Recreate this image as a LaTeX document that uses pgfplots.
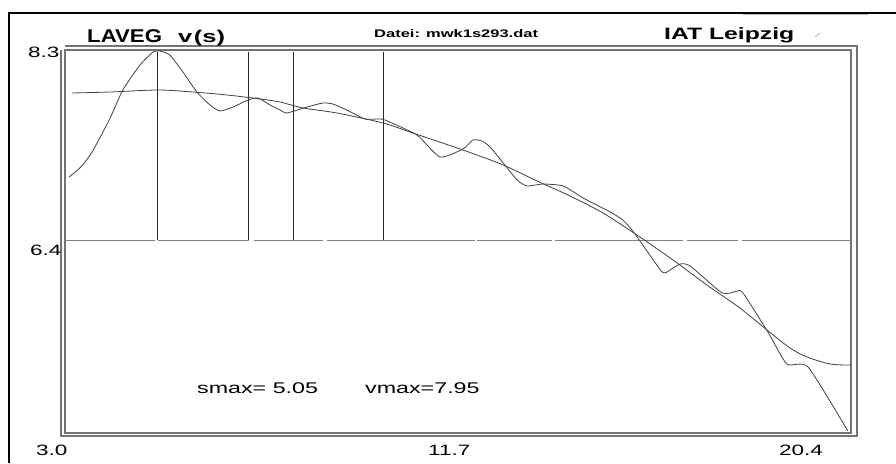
\documentclass[border=0pt]{standalone}
\usepackage{graphicx}
\usepackage{fontspec}
\setmainfont{Liberation Sans}
\usepackage{pgfplots}
\pgfplotsset{compat=1.18}
\newcommand\T[3]{\scalebox{#1}[1]{\fontsize{#2}{#2}\selectfont #3}}
\begin{document}
\begin{tikzpicture}[x=1pt,y=1pt]
\useasboundingbox (0,0) rectangle (896,-463);
% outer frame
\draw[black,line width=1.3pt] (9,-463) -- (9,-13) -- (896,-13);
\draw[gray!60,line width=1.2pt] (743,-14.5) -- (868,-14.5);
\draw[gray!70,line width=0.6pt] (815,-37) -- (820,-33);
% second (outer) box line
\draw[gray!90!black,line width=1.1pt] (61,-50) -- (61,-436) -- (857,-436) -- (857,-46) -- (65,-46);
\begin{axis}[at={(65pt,-433pt)}, anchor=south west, scale only axis,
  width=786pt, height=383pt,
  xmin=3, xmax=20.4, ymin=4.47, ymax=8.3,
  ticks=none,
  axis line style={gray!90!black, line width=1.1pt},
  unbounded coords=jump]
% horizontal reference line at 6.4 (with small gaps)
\addplot[gray, line width=0.9pt] coordinates {
 (3.0,6.4) (4.99,6.4) (nan,nan) (5.06,6.4) (7.07,6.4) (nan,nan) (7.18,6.4) (8.71,6.4) (nan,nan)
 (8.80,6.4) (12.08,6.4) (nan,nan) (12.12,6.4) (13.78,6.4) (nan,nan) (13.85,6.4) (16.68,6.4) (nan,nan)
 (16.77,6.4) (17.90,6.4) (nan,nan) (17.99,6.4) (20.4,6.4)};
% vertical markers
\addplot[black!85, line width=0.9pt] coordinates {(5.05,6.4) (5.05,8.28)};
\addplot[black!85, line width=0.9pt] coordinates {(7.05,6.4) (7.05,8.28)};
\addplot[black!85, line width=0.9pt] coordinates {(8.05,6.4) (8.05,8.28)};
\addplot[black!85, line width=0.9pt] coordinates {(10.05,6.4) (10.05,8.28)};
% measured v(s)
\addplot[black!75, line width=0.8pt, smooth, tension=0.35] table {
3.09 7.03
3.35 7.13
3.60 7.28
4.00 7.62
4.28 7.90
4.66 8.15
4.95 8.28
5.10 8.29
5.32 8.25
5.61 8.08
5.92 7.88
6.21 7.75
6.43 7.69
6.72 7.73
7.05 7.80
7.27 7.82
7.54 7.75
7.76 7.70
7.91 7.67
8.36 7.73
8.71 7.77
8.93 7.76
9.24 7.70
9.64 7.61
9.91 7.61
10.08 7.60
10.79 7.45
11.30 7.23
11.81 7.31
12.03 7.40
12.23 7.39
12.41 7.33
12.70 7.17
13.01 7.00
13.23 6.94
13.58 6.96
14.03 6.94
14.47 6.82
15.07 6.68
15.35 6.60
15.55 6.50
15.73 6.39
16.22 6.08
16.39 6.10
16.62 6.16
16.84 6.14
17.55 5.87
17.88 5.89
18.01 5.87
18.56 5.48
18.98 5.16
19.45 5.13
20.33 4.49
};
% fitted curve
\addplot[black!75, line width=0.8pt, smooth, tension=0.5] table {
3.15 7.87
4.00 7.88
5.06 7.90
5.83 7.88
6.59 7.85
7.32 7.81
7.76 7.78
8.27 7.72
9.02 7.67
10.04 7.57
10.70 7.47
11.81 7.30
12.70 7.15
13.45 6.99
14.18 6.84
14.91 6.67
15.66 6.45
16.46 6.20
17.21 5.95
17.94 5.72
18.54 5.50
19.05 5.32
19.43 5.23
19.94 5.16
20.40 5.15
};
\end{axis}
% texts
\node[anchor=base west,inner sep=0pt] at (87,-42) {\T{1.2}{18.5}{\bfseries LAVEG}};
\node[anchor=base west,inner sep=0pt] at (178,-42) {\T{1.5}{17}{\bfseries v\kern1pt(s)}};
\node[anchor=base west,inner sep=0pt] at (374,-37) {\T{1.5}{11}{\bfseries Datei: mwk1s293.dat}};
\node[anchor=base west,inner sep=0pt] at (664,-39) {\T{1.5}{16.5}{\bfseries IAT Leipzig}};
\node[anchor=base west,inner sep=0pt] at (28,-57) {\T{1.5}{15}{8.3}};
\node[anchor=base west,inner sep=0pt] at (30,-255) {\T{1.5}{15}{6.4}};
\node[anchor=base west,inner sep=0pt] at (36,-455) {\T{1.5}{15}{3.0}};
\node[anchor=base west,inner sep=0pt] at (428,-455) {\T{1.5}{15}{11.7}};
\node[anchor=base west,inner sep=0pt] at (779,-455) {\T{1.5}{15}{20.4}};
\node[anchor=base west,inner sep=0pt] at (197,-393) {\T{1.5}{15.5}{smax= 5.05}};
\node[anchor=base west,inner sep=0pt] at (365,-393) {\T{1.5}{15.5}{vmax=7.95}};
\end{tikzpicture}
\end{document}
